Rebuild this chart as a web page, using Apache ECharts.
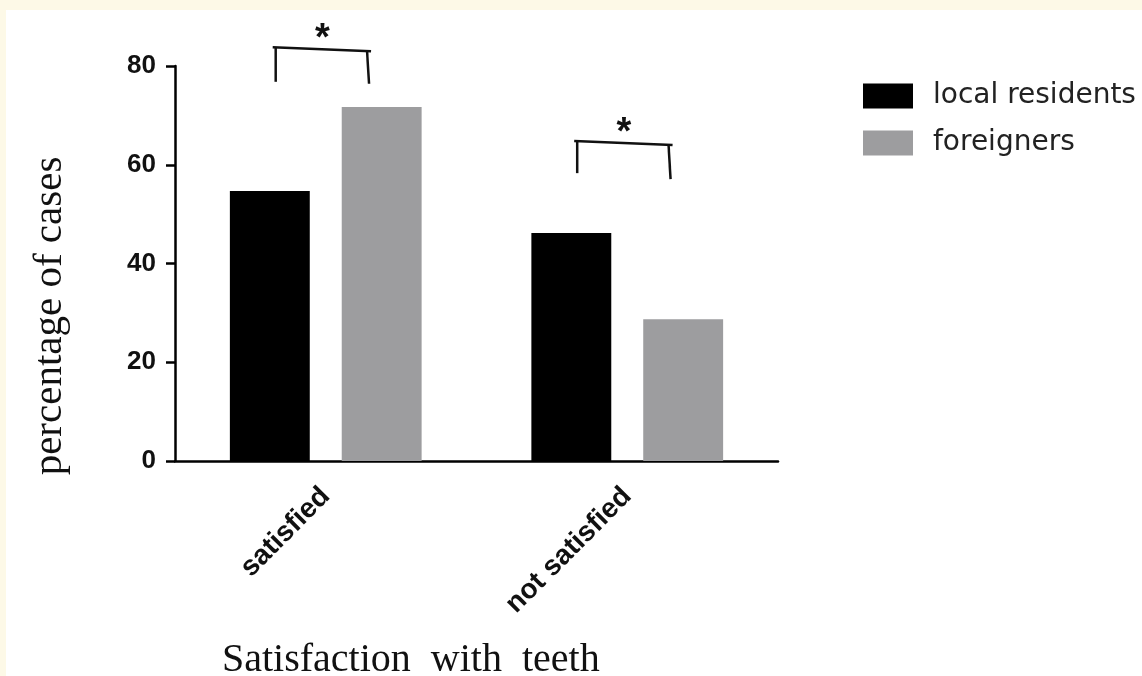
<!DOCTYPE html>
<html>
<head>
<meta charset="utf-8">
<script src="https://cdn.jsdelivr.net/npm/echarts@6/dist/echarts.min.js"></script>
<style>
  html, body { margin: 0; padding: 0; background: #fdf9e7; width: 1142px; height: 676px; overflow: hidden; }
  #chart { position: absolute; left: 6px; top: 10px; width: 1136px; height: 666px; background: #ffffff; }
</style>
</head>
<body>
<div id="chart"></div>
<script>
// Share of cases by satisfaction with teeth
const categories = ['satisfied', 'not satisfied'];
const seriesNames = ['local residents', 'foreigners'];
const localResidents = [54.7, 46.2];
const foreigners = [71.7, 28.7];
const yTicks = [0, 20, 40, 60, 80];

// Significance brackets: category index, bracket top, left leg bottom, right leg bottom
const bracketCategory = [0, 1];
const bracketTop = [83.6, 64.6];
const bracketLegLeft = [76.8, 58.3];
const bracketLegRight = [76.4, 57.1];
const bracketMark = ['*', '*'];

const chart = echarts.init(document.getElementById('chart'));

const axisFont = { fontFamily: 'Liberation Sans, Arial, sans-serif', fontWeight: 'bold', color: '#111' };

chart.setOption({
  animation: false,
  grid: { left: 169, top: 56, width: 603, height: 395, containLabel: false },
  legend: {
    left: 857, top: 72, orient: 'vertical', padding: 0,
    icon: 'rect',
    itemWidth: 50, itemHeight: 25, itemGap: 19,
    textStyle: { fontFamily: 'DejaVu Sans, sans-serif', fontSize: 28, lineHeight: 25, color: '#222', padding: [0, 0, 0, 15] },
    data: seriesNames
  },
  xAxis: {
    type: 'category',
    data: categories,
    axisLine: { lineStyle: { color: '#000', width: 2.5 } },
    axisTick: { alignWithLabel: true, length: 7, lineStyle: { color: '#000', width: 2 } },
    axisLabel: Object.assign({ rotate: 45, margin: 31, interval: 0, fontSize: 28 }, axisFont)
  },
  yAxis: {
    type: 'value', min: yTicks[0], max: yTicks[yTicks.length - 1], interval: 20,
    splitLine: { show: false },
    axisLine: { show: true, lineStyle: { color: '#000', width: 2.5 } },
    axisTick: { show: true, length: 9, lineStyle: { color: '#000', width: 2.5 } },
    axisLabel: Object.assign({ margin: 19, fontSize: 26 }, axisFont)
  },
  graphic: [
    {
      type: 'text', x: 44, y: 306, rotation: Math.PI / 2,
      style: { text: 'percentage of cases', font: '41px "Liberation Serif", "Times New Roman", serif', fill: '#111', textAlign: 'center', textVerticalAlign: 'middle' }
    },
    {
      type: 'text', x: 216, y: 650,
      style: { text: 'Satisfaction  with  teeth', font: '40px "Liberation Serif", "Times New Roman", serif', fill: '#111', textAlign: 'left', textVerticalAlign: 'middle' }
    }
  ],
  series: [
    {
      name: seriesNames[0], type: 'bar', data: localResidents,
      barWidth: '26.5%', barGap: '40%',
      itemStyle: { color: '#000000' }
    },
    {
      name: seriesNames[1], type: 'bar', data: foreigners,
      barWidth: '26.5%', barGap: '40%',
      itemStyle: { color: '#9d9d9f' }
    },
    {
      type: 'custom',
      silent: true,
      clip: false,
      data: bracketCategory.map((c, i) => [c, bracketTop[i], bracketLegLeft[i], bracketLegRight[i]]),
      renderItem: function (params, api) {
        const top = api.coord([api.value(0), api.value(1)]);
        const band = api.size([1, 0])[0];
        const xl = top[0] - band * 0.166, xr = top[0] + band * 0.137;
        const yl = api.coord([api.value(0), api.value(2)])[1];
        const yr = api.coord([api.value(0), api.value(3)])[1];
        const ls = { stroke: '#111', lineWidth: 2.5 };
        return {
          type: 'group',
          children: [
            { type: 'line', shape: { x1: xl - 3, y1: top[1] - 1, x2: xr + 4, y2: top[1] + 3 }, style: ls },
            { type: 'line', shape: { x1: xl, y1: top[1] - 1, x2: xl, y2: yl }, style: ls },
            { type: 'line', shape: { x1: xr, y1: top[1] + 3, x2: xr + 2, y2: yr }, style: ls },
            { type: 'text', x: (xl + xr) / 2 + 1, y: top[1] - 9, style: { text: bracketMark[params.dataIndex], font: 'bold 38px "Liberation Sans", Arial, sans-serif', fill: '#111', textAlign: 'center', textVerticalAlign: 'middle' } }
          ]
        };
      },
      z: 5
    }
  ]
});
</script>
</body>
</html>
